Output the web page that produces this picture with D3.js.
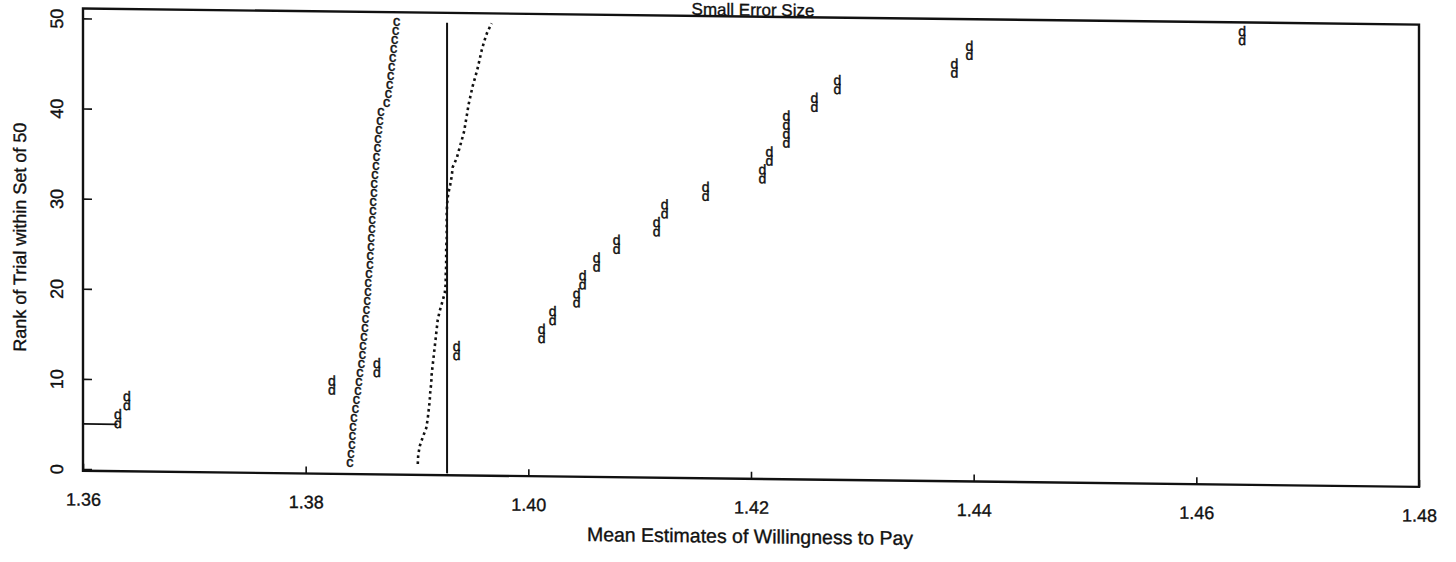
<!DOCTYPE html>
<html>
<head>
<meta charset="utf-8">
<script src="https://cdn.jsdelivr.net/npm/d3@7"></script>
<style>
  body { margin: 0; background: #fff; }
  text { font-family: "Liberation Sans", Arial, Helvetica, sans-serif; fill: #111; }
  .lbl { stroke: #111; stroke-width: 0.35px; }
  .mark { stroke: #111; stroke-width: 0.45px; }
</style>
</head>
<body>
<svg id="chart" width="1456" height="562"></svg>
<script>
// Tick values
const xTicks = [1.36, 1.38, 1.40, 1.42, 1.44, 1.46, 1.48];
const yTicks = [0, 10, 20, 30, 40, 50];

// "c" series: mean estimate for each rank 1..50
const cRanks = [1,2,3,4,5,6,7,8,9,10,11,12,13,14,15,16,17,18,19,20,21,22,23,24,25,
                26,27,28,29,30,31,32,33,34,35,36,37,38,39,40,41,42,43,44,45,46,47,48,49,50];
const cValues = [1.38396,1.38405,1.38414,1.38419,1.38423,1.38432,1.38446,1.38455,1.38468,1.38477,
                 1.38486,1.38500,1.38509,1.38513,1.38522,1.38531,1.38536,1.38545,1.38553,1.38558,
                 1.38562,1.38567,1.38576,1.38580,1.38585,1.38589,1.38594,1.38598,1.38603,1.38607,
                 1.38612,1.38616,1.38621,1.38630,1.38634,1.38643,1.38648,1.38657,1.38666,1.38675,
                 1.38728,1.38742,1.38755,1.38764,1.38773,1.38782,1.38791,1.38800,1.38809,1.38818];

// "d" series: ranks 5..50 (ranks 1..4 fall below 1.36)
const dRanks = [5,6,7,8,9,10,11,12,13,14,15,16,17,18,19,20,21,22,23,24,25,26,27,
                28,29,30,31,32,33,34,35,36,37,38,39,40,41,42,43,44,45,46,47,48,49,50];
const dValues = [1.36314,1.36314,1.36395,1.36395,1.38235,1.38235,1.38639,1.38639,
                 1.39357,1.39357,1.40120,1.40120,1.40218,1.40218,1.40434,1.40434,
                 1.40488,1.40488,1.40613,1.40613,1.40793,1.40793,1.41152,1.41152,
                 1.41224,1.41224,1.41592,1.41592,1.42103,1.42103,1.42166,1.42166,
                 1.42319,1.42319,1.42319,1.42319,1.42570,1.42570,1.42776,1.42776,
                 1.43826,1.43826,1.43961,1.43961,1.46411,1.46411];

// Dotted curve by rank
const dotRanks = [1,2,3,4,5,6,7,8,9,10,11,12,13,14,15,16,17,18,19,20,21,22,23,24,25,
                  26,27,28,29,30,31,32,33,34,35,36,37,38,39,40,41,42,43,44,45,46,47,48,49,50];
const dotValues = [1.39007,1.39011,1.39025,1.39052,1.39083,1.39096,1.39105,1.39114,1.39119,1.39128,
                   1.39132,1.39141,1.39150,1.39159,1.39168,1.39177,1.39186,1.39204,1.39227,1.39249,
                   1.39258,1.39258,1.39262,1.39262,1.39262,1.39267,1.39267,1.39267,1.39267,1.39271,
                   1.39280,1.39298,1.39312,1.39321,1.39357,1.39379,1.39402,1.39424,1.39437,1.39451,
                   1.39464,1.39482,1.39500,1.39523,1.39545,1.39563,1.39581,1.39604,1.39631,1.39671];

// Solid reference line and the short stub at rank 5
const refValue = 1.3927;
const refRanks = [0, 50];
const stubValues = [1.36, 1.3631];
const stubRank = 5;

const svg = d3.select("#chart");
const plotLeft = 83, plotRight = 1419, plotTop = 8.5, plotBottom = 470.8;

const x = d3.scaleLinear().domain([1.36, 1.48]).range([plotLeft, plotRight]);
const y = d3.scaleLinear().domain([0, 50]).range([469, 18.4]);

// whole page is slightly sheared downward to the right
const g = svg.append("g")
  .attr("transform", `translate(${plotLeft},0) skewY(0.69) translate(${-plotLeft},0)`);

// frame
g.append("rect")
  .attr("x", plotLeft).attr("y", plotTop)
  .attr("width", plotRight - plotLeft).attr("height", plotBottom - plotTop)
  .attr("fill", "none").attr("stroke", "#111").attr("stroke-width", 2.4);

// x axis
const xAxis = g.append("g")
  .attr("transform", `translate(0,${plotBottom})`)
  .call(d3.axisBottom(x).tickValues(xTicks).tickSize(-7).tickPadding(22)
        .tickFormat(d3.format(".2f")));
xAxis.select(".domain").remove();
xAxis.selectAll("line").attr("stroke", "#111").attr("stroke-width", 1.6);
xAxis.selectAll("text").attr("class", "lbl").attr("font-size", 18).attr("fill", "#111")
  .style("font-family", "Liberation Sans, Arial, sans-serif");

// y axis
const yAxis = g.append("g")
  .attr("transform", `translate(${plotLeft},0)`)
  .call(d3.axisLeft(y).tickValues(yTicks).tickSize(-9));
yAxis.select(".domain").remove();
yAxis.selectAll("line").attr("stroke", "#111").attr("stroke-width", 1.6);
yAxis.selectAll("text")
  .attr("class", "lbl")
  .attr("x", null).attr("dy", null).attr("y", null)
  .attr("transform", "translate(-20,0) rotate(-90)")
  .attr("text-anchor", "middle")
  .attr("font-size", 18).attr("fill", "#111")
  .style("font-family", "Liberation Sans, Arial, sans-serif");

// axis titles
g.append("text")
  .attr("class", "lbl")
  .attr("x", 750).attr("y", 535)
  .attr("text-anchor", "middle").attr("font-size", 19.5)
  .text("Mean Estimates of Willingness to Pay");

g.append("text")
  .attr("class", "lbl")
  .attr("transform", "translate(26,238) rotate(-90)")
  .attr("text-anchor", "middle").attr("font-size", 18)
  .text("Rank of Trial within Set of 50");

g.append("text")
  .attr("class", "lbl")
  .attr("x", 753).attr("y", 7.5)
  .attr("text-anchor", "middle").attr("font-size", 17)
  .text("Small Error Size");

// stub line at rank 5
g.append("line")
  .attr("x1", x(stubValues[0])).attr("x2", x(stubValues[1]))
  .attr("y1", y(stubRank)).attr("y2", y(stubRank))
  .attr("stroke", "#111").attr("stroke-width", 1.8);

// solid reference line
g.append("line")
  .attr("x1", x(refValue)).attr("x2", x(refValue))
  .attr("y1", y(refRanks[0])).attr("y2", y(refRanks[1]))
  .attr("stroke", "#111").attr("stroke-width", 2);

// dotted curve
const dotLine = d3.line()
  .x((d, i) => x(dotValues[i]))
  .y((d, i) => y(dotRanks[i]));
g.append("path")
  .datum(dotRanks)
  .attr("d", dotLine)
  .attr("fill", "none").attr("stroke", "#111")
  .attr("stroke-width", 2.6).attr("stroke-dasharray", "2.6,3.4");

// "c" markers
g.append("g").selectAll("text")
  .data(cRanks)
  .join("text")
  .attr("class", "mark")
  .attr("x", (d, i) => x(cValues[i]))
  .attr("y", d => y(d) + 3.6)
  .attr("text-anchor", "middle")
  .attr("font-size", 14.5)
  .text("c");

// "d" markers
g.append("g").selectAll("text")
  .data(dRanks)
  .join("text")
  .attr("class", "mark")
  .attr("x", (d, i) => x(dValues[i]))
  .attr("y", d => y(d) + 3.6)
  .attr("text-anchor", "middle")
  .attr("font-size", 14)
  .text("d");
</script>
</body>
</html>
